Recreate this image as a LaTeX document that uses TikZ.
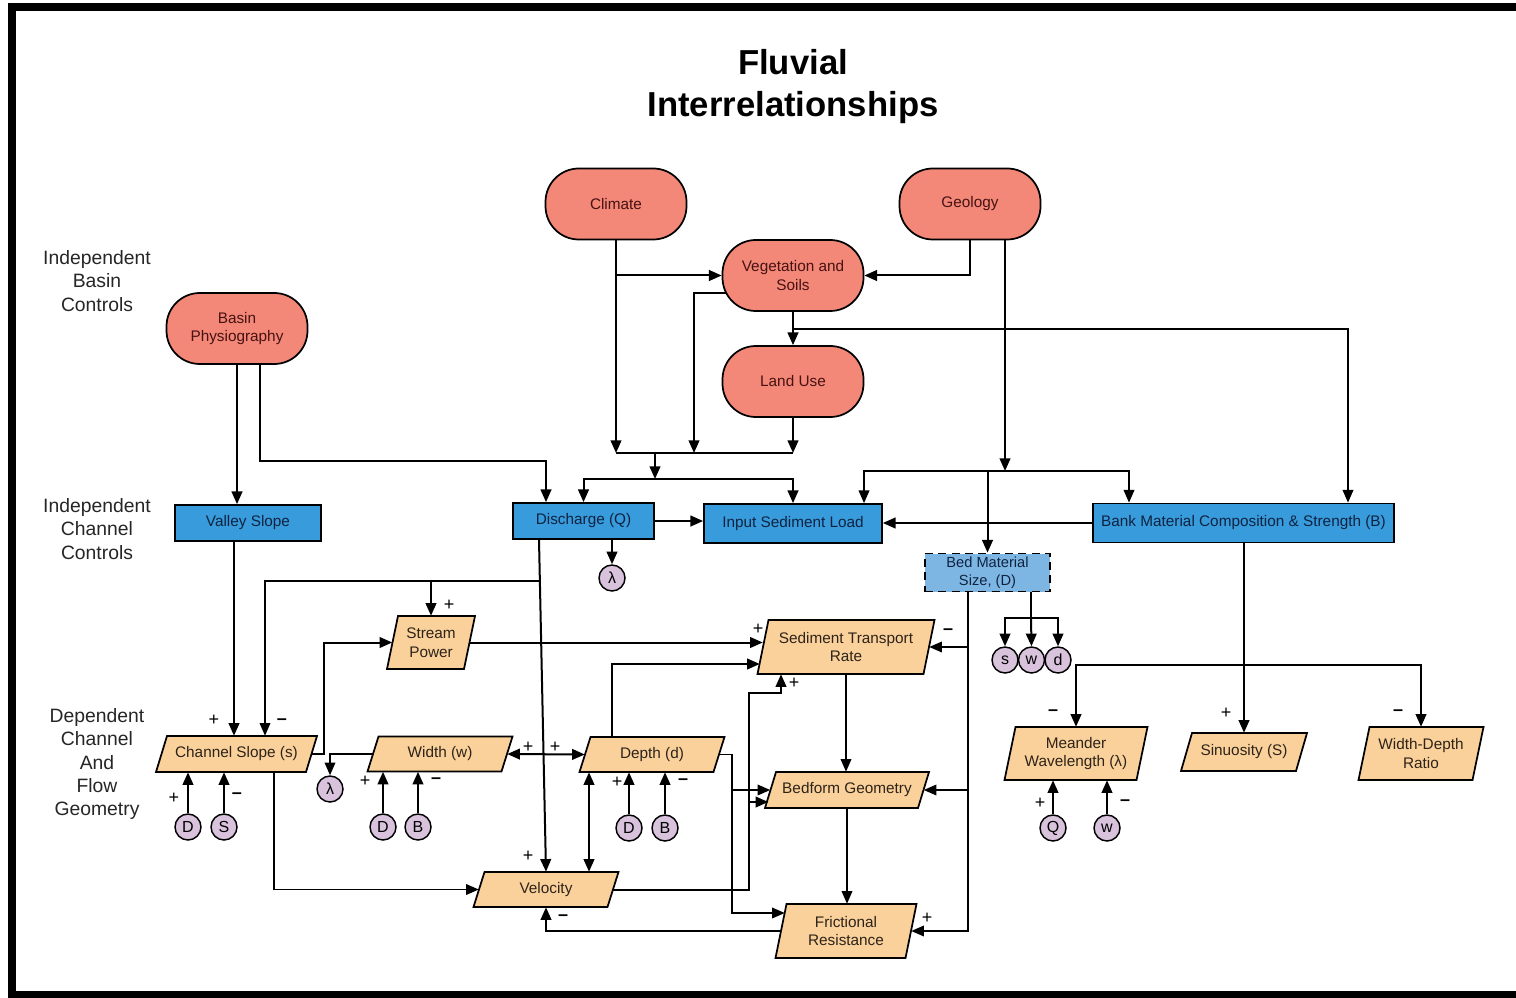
\documentclass[tikz,border=0pt]{standalone}
\usepackage{fontspec}
\setmainfont{Liberation Sans}
\usetikzlibrary{arrows.meta,calc}
\definecolor{salmon}{RGB}{243,135,120}
\definecolor{redtext}{RGB}{70,18,18}
\definecolor{boxblue}{RGB}{55,155,220}
\definecolor{lightblue}{RGB}{125,182,226}
\definecolor{navytext}{RGB}{15,35,65}
\definecolor{tan}{RGB}{250,209,155}
\definecolor{tantext}{RGB}{45,35,25}
\definecolor{lilac}{RGB}{216,194,220}
\newcommand\paranode[6]{%
  \filldraw[parashape] ({#2-#4/2-5.5},{#3+#5/2}) -- ({#2+#4/2-5.5},{#3+#5/2}) -- ({#2+#4/2+5.5},{#3-#5/2}) -- ({#2-#4/2+5.5},{#3-#5/2}) -- cycle;
  \node[paratext, minimum width=#4*0.75pt, minimum height=#5*0.75pt] (#1) at (#2,#3) {#6};}
\begin{document}
\begin{tikzpicture}[x=0.75pt,y=-0.75pt,
  every node/.style={font=\fontsize{11.5}{14}\selectfont},
  ln/.style={line width=1.5pt},
  thn/.style={line width=1.05pt},
  arr/.style={-{Triangle[length=9.5pt,width=8pt]}},
  arrtwo/.style={{Triangle[length=9.5pt,width=8pt]}-{Triangle[length=9.5pt,width=8pt]}},
  pill/.style={draw, line width=1.3pt, fill=salmon, text=redtext, rounded corners=25pt, minimum width=141*0.75pt, minimum height=71*0.75pt, align=center, inner sep=2pt},
  bbox/.style={draw, line width=1.3pt, fill=boxblue, text=navytext, align=center, inner sep=1pt},
  parashape/.style={fill=tan, draw, line width=1.3pt},
  paratext/.style={text=tantext, align=center, inner sep=0pt},
  circ/.style={circle, draw, line width=1.1pt, fill=lilac, minimum size=26*0.75pt, inner sep=0pt, font=\fontsize{12}{12}\selectfont},
  sg/.style={font=\fontsize{13.5}{13.5}\selectfont, inner sep=0pt},
  lab/.style={align=center, font=\fontsize{14.5}{17.6}\selectfont, text=black!85},
]
\useasboundingbox (0,0) rectangle (1516,998);
\fill[white] (0,0) rectangle (1516,998);
% frame
\draw[line width=6pt] (12,998) -- (12,7) -- (1516,7);
\draw[line width=6pt] (8,995) -- (1516,995);

% title and side labels
\node[font=\fontsize{26}{31.5}\selectfont\bfseries, align=center] (title) at (793,87) {Fluvial\\Interrelationships};
\node[lab] (lbasin) at (97,281) {Independent\\Basin\\Controls};
\node[lab] (lchan) at (97,529) {Independent\\Channel\\Controls};
\node[lab] (ldep) at (97,764) {Dependent\\Channel\\And\\Flow\\Geometry};

% basin controls
\node[pill] (climate) at (616,204) {Climate};
\node[pill] (geology) at (970,204) {Geology};
\node[pill] (veg) at (793,275.5) {Vegetation and\\Soils};
\node[pill] (land) at (793,381.5) {Land Use};
\node[pill] (basin) at (237,328.5) {Basin\\Physiography};

% channel controls
\node[bbox, minimum width=146*0.75pt, minimum height=36*0.75pt] (valley) at (248,523) {Valley Slope};
\node[bbox, minimum width=141*0.75pt, minimum height=36*0.75pt] (dis) at (583.5,521) {Discharge (Q)};
\node[bbox, minimum width=178*0.75pt, minimum height=39*0.75pt] (isl) at (793,523.5) {Input Sediment Load};
\node[bbox, minimum width=301*0.75pt, minimum height=39*0.75pt] (bank) at (1243.5,523) {Bank Material Composition \& Strength (B)};
\node[bbox, dashed, dash pattern=on 6pt off 4pt, fill=lightblue, minimum width=125*0.75pt, minimum height=38*0.75pt, font=\fontsize{11}{13.5}\selectfont] (bed) at (987.5,572.5) {Bed Material\\Size, (D)};

% dependent variables
\paranode{sp}{431}{642.5}{77}{53}{Stream\\Power}
\paranode{str}{846}{647}{166}{54}{Sediment Transport\\Rate}
\paranode{cs}{236.5}{754}{150}{36}{Channel Slope (s)}
\paranode{wd}{440}{754}{134}{35}{Width (w)}
\paranode{dep}{652}{754.5}{134}{35}{Depth (d)}
\paranode{bf}{847}{790}{153}{36}{Bedform Geometry}
\paranode{vel}{546}{889.5}{134}{35}{Velocity}
\paranode{fr}{846}{931}{130}{54}{Frictional\\Resistance}
\paranode{mw}{1076}{753.5}{132}{53}{Meander\\Wavelength (λ)}
\paranode{sin}{1244}{752}{115}{38}{Sinuosity (S)}
\paranode{wdr}{1421}{753.5}{114}{53}{Width-Depth\\Ratio}

% small circles
\node[circ] (lamQ) at (612,578) {λ};
\node[circ] (csD) at (188,827) {D};
\node[circ] (csS) at (224,827) {S};
\node[circ] (lamW) at (330,789) {λ};
\node[circ] (wdD) at (383,827) {D};
\node[circ] (wdB) at (418,827) {B};
\node[circ] (dpD) at (629,828) {D};
\node[circ] (dpB) at (665,828) {B};
\node[circ] (bs) at (1005,660) {s};
\node[circ] (bw) at (1031.5,660) {w};
\node[circ] (bd) at (1058,660) {d};
\node[circ] (mQ) at (1053,828) {Q};
\node[circ] (mw2) at (1107,828) {w};

% junction coordinates
\coordinate (jA) at (655,453);
\coordinate (jC) at (655,479);
\coordinate (jB) at (1005,471);
\coordinate (jS) at (1031,618);

% top connectors
\draw[ln,arr] (climate.south) -- (climate.south |- jA);
\draw[ln,arr] (climate.south |- veg.west) -- (veg.west);
\draw[ln,arr] (geology.south) |- (veg.east);
\draw[ln,arr] (geology.south -| jB) -- (jB);
\draw[ln,arr] ([shift={(5,18)}]veg.west) -| (jA -| 694,0);
\draw[ln,arr] (veg.south) -- (land.north);
\draw[thn,arr] (veg.south |- 0,329) -| (bank.north -| 1348,0);
\draw[ln,arr] (land.south) -- (land.south |- jA);
\draw[ln] (climate.south |- jA) -- (land.south |- jA);
\draw[ln,arr] (jA) -- (jC);
\draw[ln,arr] (jC) -| (dis.north);
\draw[ln,arr] (jC) -| (isl.north);
\draw[thn,arr] (jB) -| (isl.north -| 864,0);
\draw[thn,arr] (jB) -| (bank.north -| 1129,0);
\draw[ln,arr] (jB -| bed.north) -- (bed.north);
\draw[ln,arr] (basin.south) -- (basin.south |- valley.north);
\draw[ln,arr] (basin.south -| 260,0) |- (546,461) -- (dis.north -| 546,0);
\draw[ln,arr] (dis.east) -- (dis.east -| isl.west);
\draw[ln,arr] (bank.west) -- (bank.west -| isl.east);
\draw[ln,arr] (dis.south -| lamQ) -- (lamQ.north);

% discharge line and branches
\draw[ln,arr] (dis.south -| 539,0) -- (vel.north -| 546,0);
\draw[thn,arr] (540,581) -| (cs.north -| 265,0);
\draw[ln,arr] (sp.north |- 0,581) -- (sp.north);
\draw[ln,arr] (valley.south -| 234,0) -- (cs.north -| 234,0);

% dependent connectors
\draw[ln,arr] (cs.east) -| (sp.west -| 324,0) -- (sp.west);
\draw[ln,arr] (sp.east) -- (sp.east -| str.west);
\draw[ln,arr] (dep.north -| 612,0) |- ([shift={(-3,17)}]str.west);
\draw[ln,arr] (vel.east) -| (749,693) -| (str.south -| 781,0);
\draw[ln,arr] (749,802) -- ([shift={(-2,12)}]bf.west);
\draw[thn,arr] (dep.east) -| (732,790) -- (bf.west);
\draw[thn,arr] (732,790) |- ([shift={(4,-18)}]fr.west);
\draw[thn,arr] (str.south) -- (str.south |- bf.north);
\draw[thn,arr] (bf.south) -- (bf.south |- fr.north);
\draw[thn,arr] (bed.south -| 968,0) |- (fr.east);
\draw[thn,arr] (str.east -| 968,0) -- (str.east);
\draw[thn,arr] (bf.east -| 968,0) -- (bf.east);
\draw[ln] (bed.south -| jS) -- (jS);
\draw[ln,arr] (jS) -| (bs.north);
\draw[ln,arr] (jS) -| (bd.north);
\draw[ln,arr] (jS) -- (bw.north);
\draw[ln,arr] (bank.south -| sin.north) -- (sin.north);
\draw[ln,arr] (1243.5,665) -| (mw.north);
\draw[ln,arr] (1243.5,665) -| (wdr.north);
\draw[ln,arrtwo] (wd.east) -- (dep.west);
\draw[thn,arr] (wd.west) -| (lamW.north);
\draw[ln,arrtwo] (dep.south -| 589,0) -- (vel.north -| 589,0);
\draw[thn,arr] (cs.south -| 274,0) |- (vel.west);
\draw[ln,arr] (fr.west) -| (vel.south);
\draw[ln,arr] (csD.north) -- (csD.north |- cs.south);
\draw[ln,arr] (csS.north) -- (csS.north |- cs.south);
\draw[ln,arr] (wdD.north) -- (wdD.north |- wd.south);
\draw[ln,arr] (wdB.north) -- (wdB.north |- wd.south);
\draw[ln,arr] (dpD.north) -- (dpD.north |- dep.south);
\draw[ln,arr] (dpB.north) -- (dpB.north |- dep.south);
\draw[ln,arr] (mQ.north) -- (mQ.north |- mw.south);
\draw[ln,arr] (mw2.north) -- (mw2.north |- mw.south);

% signs
\node[sg] (s1) at (214,720) {+};
\node[sg] (s2) at (282,722) {\textbf{–}};
\node[sg] (s3) at (449,605) {+};
\node[sg] (s4) at (174,798) {+};
\node[sg] (s5) at (237,796) {\textbf{–}};
\node[sg] (s6) at (365,781) {+};
\node[sg] (s7) at (436,781) {\textbf{–}};
\node[sg] (s8) at (528,747) {+};
\node[sg] (s9) at (555,747) {+};
\node[sg] (s10) at (617,782) {+};
\node[sg] (s11) at (683,782) {\textbf{–}};
\node[sg] (s12) at (528,856) {+};
\node[sg] (s13) at (563,918) {\textbf{–}};
\node[sg] (s14) at (758,629) {+};
\node[sg] (s15) at (794,683) {+};
\node[sg] (s16) at (948,632) {\textbf{–}};
\node[sg] (s17) at (927,918) {+};
\node[sg] (s18) at (1053,713) {\textbf{–}};
\node[sg] (s19) at (1040,803) {+};
\node[sg] (s20) at (1125,803) {\textbf{–}};
\node[sg] (s21) at (1226,713) {+};
\node[sg] (s22) at (1398,713) {\textbf{–}};
\end{tikzpicture}
\end{document}
